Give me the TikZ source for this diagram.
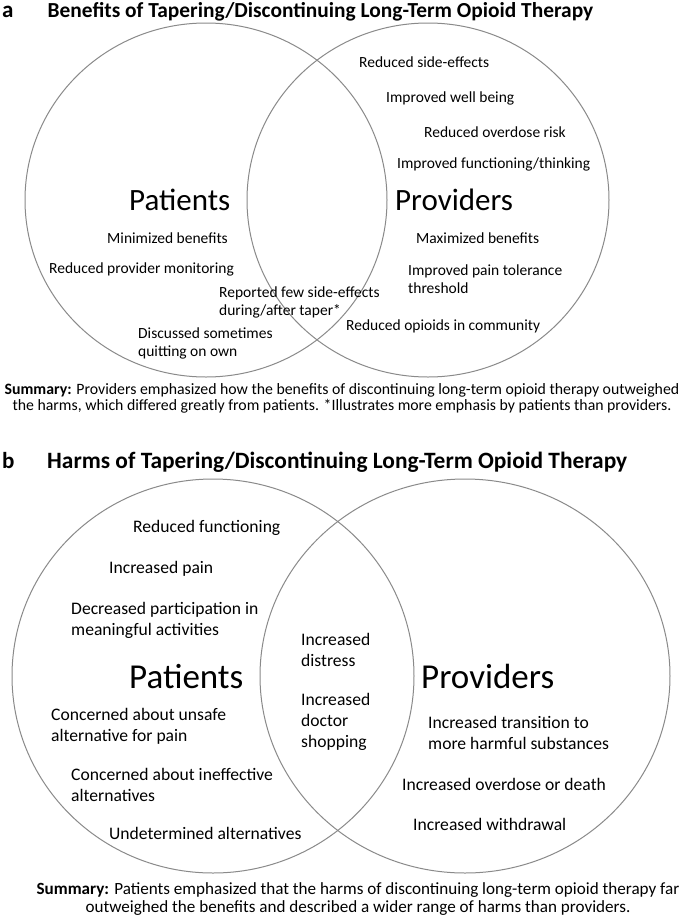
\documentclass[tikz,border=0pt]{standalone}
\usepackage{fontspec}
\setmainfont{Carlito}
\usetikzlibrary{shapes.geometric}
\definecolor{circgray}{HTML}{8A8A8A}
\begin{document}
\begin{tikzpicture}[x=1pt,y=-1pt,
  ring/.style={ellipse, draw=circgray, line width=1pt, inner sep=0pt, outer sep=0pt},
  panlabel/.style={anchor=base west, inner sep=0pt, font=\fontsize{23}{26}\selectfont\bfseries},
  titlea/.style={anchor=base west, inner sep=0pt, font=\fontsize{21.4}{24}\selectfont\bfseries},
  titleb/.style={anchor=base west, inner sep=0pt, font=\fontsize{23.4}{26}\selectfont\bfseries},
  ta/.style={anchor=base west, inner sep=0pt, align=left, font=\fontsize{15.5}{18.5}\selectfont},
  tb/.style={anchor=base west, inner sep=0pt, align=left, font=\fontsize{17.6}{21}\selectfont},
  biga/.style={anchor=base west, inner sep=0pt, font=\fontsize{31}{36}\selectfont},
  bigb/.style={anchor=base west, inner sep=0pt, font=\fontsize{35}{40}\selectfont},
  suma/.style={anchor=base, inner sep=0pt, align=center, font=\fontsize{15.8}{16.5}\selectfont},
  sumb/.style={anchor=base, inner sep=0pt, align=center, font=\fontsize{17.1}{18}\selectfont}]
\useasboundingbox (0,0) rectangle (685,919);
\fill[white] (0,0) rectangle (685,919);

% ---------- Panel a ----------
\node[panlabel] (la) at (2,17) {a};
\node[titlea] (tia) at (47.5,17) {Benefits of Tapering/Discontinuing Long-Term Opioid Therapy};
\node[ring, minimum width=362, minimum height=354] (pa) at (206,200) {};
\node[ring, minimum width=362, minimum height=354] (qa) at (428,200) {};

\node[ta] (a1) at (359,67) {Reduced side-effects};
\node[ta] (a2) at (386,102) {Improved well being};
\node[ta] (a3) at (424,137) {Reduced overdose risk};
\node[ta] (a4) at (397,168) {Improved functioning/thinking};
\node[biga] (pta) at (129,210) {Patients};
\node[biga] (pva) at (395,210) {Providers};
\node[ta] (a5) at (107,243) {Minimized benefits};
\node[ta] (a6) at (49,273) {Reduced provider monitoring};
\node[ta] (a7) at (219,315.5) {Reported few side-effects\\during/after taper*};
\node[ta] (a8) at (138,356.5) {Discussed sometimes\\quitting on own};
\node[ta] (a9) at (416,243) {Maximized benefits};
\node[ta] (a10) at (408,293.5) {Improved pain tolerance\\threshold};
\node[ta] (a11) at (346,330) {Reduced opioids in community};
\node[suma] (sa) at (342,410.5) {\textbf{Summary:} Providers emphasized how the benefits of discontinuing long-term opioid therapy outweighed\\the harms, which differed greatly from patients. *Illustrates more emphasis by patients than providers.};

% ---------- Panel b ----------
\node[panlabel] (lb) at (2,468) {b};
\node[titleb] (tib) at (47,468) {Harms of Tapering/Discontinuing Long-Term Opioid Therapy};
\node[ring, minimum width=402, minimum height=394] (pb) at (213,676) {};
\node[ring, minimum width=410, minimum height=394] (qb) at (465,676) {};

\node[tb] (b1) at (133,532) {Reduced functioning};
\node[tb] (b2) at (109,573) {Increased pain};
\node[tb] (b3) at (71,635) {Decreased participation in\\meaningful activities};
\node[tb] (b4) at (301,666) {Increased\\distress};
\node[bigb] (ptb) at (129,688) {Patients};
\node[bigb] (pvb) at (421,688) {Providers};
\node[tb] (b5) at (301,747) {Increased\\doctor\\shopping};
\node[tb] (b6) at (51,741) {Concerned about unsafe\\alternative for pain};
\node[tb] (b7) at (71,801) {Concerned about ineffective\\alternatives};
\node[tb] (b8) at (109,839) {Undetermined alternatives};
\node[tb] (b9) at (428,749) {Increased transition to\\more harmful substances};
\node[tb] (b10) at (402,790) {Increased overdose or death};
\node[tb] (b11) at (413,830) {Increased withdrawal};
\node[sumb] (sb) at (358,912) {\textbf{Summary:} Patients emphasized that the harms of discontinuing long-term opioid therapy far\\outweighed the benefits and described a wider range of harms than providers.};
\end{tikzpicture}
\end{document}
